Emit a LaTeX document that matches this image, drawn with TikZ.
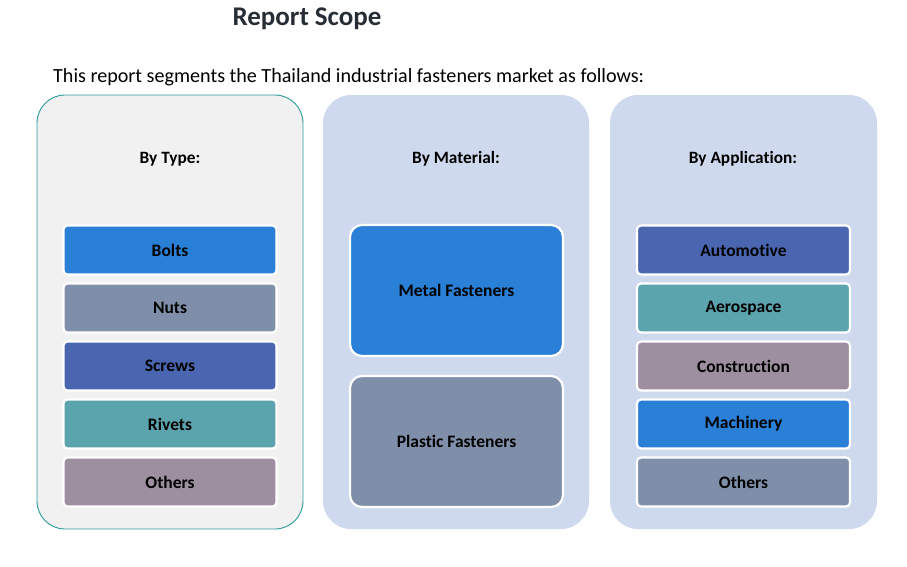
\documentclass[tikz,border=0pt]{standalone}
\usepackage{fontspec}
\setmainfont{Carlito}[Ligatures={NoCommon}]
\definecolor{tealb}{HTML}{2A9A9A}
\definecolor{greyp}{HTML}{F1F1F1}
\definecolor{bluep}{HTML}{CFD9EE}
\definecolor{cblue}{HTML}{2A7FD6}
\definecolor{cgrey}{HTML}{7F8FA9}
\definecolor{cindigo}{HTML}{4A66B0}
\definecolor{cteal}{HTML}{5BA3AD}
\definecolor{cmauve}{HTML}{9E8FA0}
\definecolor{titlec}{HTML}{262D35}
\tikzset{
  panel/.style={rounded corners=28pt},
  item/.style={draw=white, line width=2.2pt, rounded corners=4pt, minimum width=213pt, minimum height=49pt, font=\bfseries\fontsize{17.5}{21}\selectfont, text=black, inner sep=0pt},
  bigitem/.style={item, rounded corners=12pt, minimum height=131pt},
  head/.style={font=\bfseries\fontsize{17.3}{21}\selectfont, text=black},
}
\begin{document}
\begin{tikzpicture}[x=1pt,y=-1pt]
\useasboundingbox (0,0) rectangle (907,566);
\node[font=\bfseries\fontsize{27}{32}\selectfont, text=titlec] (title) at (307,19) {Report Scope};
\node[font=\fontsize{20.1}{24}\selectfont, anchor=west, inner sep=0pt] (sub) at (53,77.5) {This report segments the Thailand industrial fasteners market as follows:};
% panels
\path[panel, fill=greyp, draw=tealb, line width=0.9pt] (37,95) rectangle (303,529);
\path[panel, fill=bluep] (323,95) rectangle (589,529);
\path[panel, fill=bluep] (610,95) rectangle (877,529);
\node[head] (h1) at (170,159) {By Type:};
\node[head] (h2) at (456,159) {By Material:};
\node[head] (h3) at (743,159) {By Application:};
% type
\node[item, fill=cblue] (bolts) at (170,250) {Bolts};
\node[item, fill=cgrey] (nuts) at (170,308) {Nuts};
\node[item, fill=cindigo] (screws) at (170,366) {Screws};
\node[item, fill=cteal] (rivets) at (170,424) {Rivets};
\node[item, fill=cmauve] (oth1) at (170,482) {Others};
% material
\node[bigitem, fill=cblue] (metal) at (456.5,290.5) {Metal Fasteners};
\node[bigitem, fill=cgrey] (plastic) at (456.5,441.5) {Plastic Fasteners};
% application
\node[item, fill=cindigo] (auto) at (743.5,250) {Automotive};
\node[item, fill=cteal] (aero) at (743.5,308) {Aerospace};
\node[item, fill=cmauve] (cons) at (743.5,366) {Construction};
\node[item, fill=cblue] (mach) at (743.5,424) {Machinery};
\node[item, fill=cgrey] (oth2) at (743.5,482) {Others};
\end{tikzpicture}
\end{document}
